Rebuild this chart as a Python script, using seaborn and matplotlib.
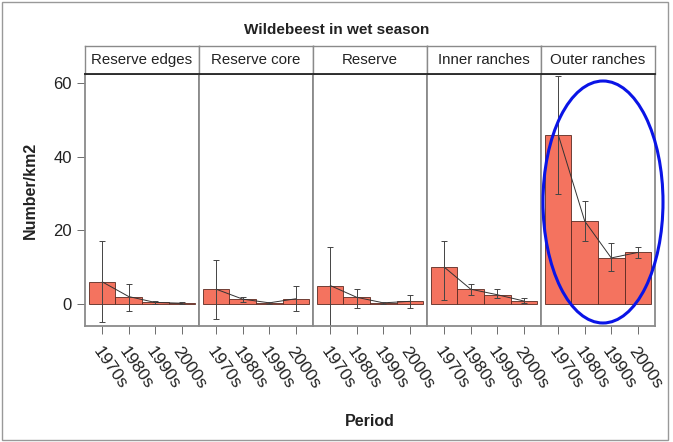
import matplotlib
matplotlib.use("Agg")
import matplotlib.pyplot as plt
import seaborn as sns
import pandas as pd
from matplotlib.patches import Ellipse, Rectangle

# Data
regions = ["Reserve edges", "Reserve core", "Reserve", "Inner ranches", "Outer ranches"]
periods = ["1970s", "1980s", "1990s", "2000s"]
means = {
    "Reserve edges": [6.0, 2.0, 0.4, 0.2],
    "Reserve core": [4.0, 1.3, 0.3, 1.4],
    "Reserve": [5.0, 1.8, 0.3, 0.7],
    "Inner ranches": [10.0, 4.0, 2.5, 0.8],
    "Outer ranches": [46.0, 22.5, 12.5, 14.0],
}
lower = {
    "Reserve edges": [-5.0, -2.0, 0.1, 0.0],
    "Reserve core": [-4.0, 0.6, 0.1, -2.0],
    "Reserve": [-6.5, -1.0, 0.1, -1.0],
    "Inner ranches": [1.0, 2.5, 1.5, 0.2],
    "Outer ranches": [30.0, 17.0, 9.0, 12.5],
}
upper = {
    "Reserve edges": [17.0, 5.5, 0.7, 0.4],
    "Reserve core": [12.0, 2.0, 0.5, 4.8],
    "Reserve": [15.5, 4.0, 0.5, 2.5],
    "Inner ranches": [17.0, 5.5, 4.0, 1.5],
    "Outer ranches": [62.0, 28.0, 16.5, 15.5],
}

rows = []
for r in regions:
    for i, p in enumerate(periods):
        rows.append({"region": r, "period": p, "density": means[r][i],
                     "lo": lower[r][i], "hi": upper[r][i]})
df = pd.DataFrame(rows)

sns.set_style("white")
plt.rcParams["font.family"] = ["Liberation Sans", "DejaVu Sans"]

W, H = 673, 442
fig = plt.figure(figsize=(W / 100, H / 100), dpi=100)

left_px, right_px = 85, 655
top_px, bot_px = 74, 326
strip_top = 46
pw = (right_px - left_px) / 5

for k, r in enumerate(regions):
    x0 = (left_px + k * pw) / W
    ax = fig.add_axes([x0, 1 - bot_px / H, pw / W, (bot_px - top_px) / H])
    sub = df[df["region"] == r]
    sns.barplot(data=sub, x="period", y="density", order=periods, color="#f4735f",
                saturation=1, width=1.0, edgecolor="#5a2a22", linewidth=0.6,
                errorbar=None, ax=ax)
    xs = list(range(len(periods)))
    ax.plot(xs, sub["density"].values, color="#333333", lw=0.7)
    ax.errorbar(xs, sub["density"].values,
                yerr=[sub["density"].values - sub["lo"].values,
                      sub["hi"].values - sub["density"].values],
                fmt="none", ecolor="#444444", elinewidth=0.7, capsize=2.5, capthick=0.7)
    ax.set_xlim(-0.65, 3.65)
    ax.set_ylim(-6, 62.5)
    ax.set_xlabel("")
    ax.set_ylabel("")
    ax.set_xticks(xs)
    ax.set_xticklabels(periods, rotation=-55, ha="left", rotation_mode="anchor",
                       fontsize=12.5, color="#222222")
    ax.tick_params(axis="x", length=6, width=0.6, color="#555555", pad=7, bottom=True)
    if k == 0:
        ax.set_yticks([0, 20, 40, 60])
        ax.tick_params(axis="y", length=6, width=0.6, color="#555555", labelsize=12,
                       left=True, labelcolor="#222222")
    else:
        ax.set_yticks([])
    for s in ax.spines.values():
        s.set_color("#8a8a8a")
        s.set_linewidth(1.3)

    # strip
    sax = fig.add_axes([x0, 1 - top_px / H, pw / W, (top_px - strip_top) / H])
    sax.set_xticks([])
    sax.set_yticks([])
    for s in sax.spines.values():
        s.set_color("#8a8a8a")
        s.set_linewidth(1.0)
    sax.spines["bottom"].set_color("#222222")
    sax.spines["bottom"].set_linewidth(1.3)
    sax.text(0.5, 0.5, r, ha="center", va="center", fontsize=10.8, color="#222222",
             transform=sax.transAxes)

fig.text(0.5, 1 - 30 / H, "Wildebeest in wet season", ha="center", va="center",
         fontsize=11, fontweight="bold", color="#222222")
fig.text(30 / W, 1 - 190 / H, "Number/km2", rotation=90, ha="center", va="center",
         fontsize=11.5, fontweight="bold", color="#222222")
fig.text((left_px + right_px) / 2 / W, 1 - 422 / H, "Period", ha="center", va="center",
         fontsize=11.5, fontweight="bold", color="#222222")

# blue highlight ellipse around the last panel
ell = Ellipse((603 / W, 1 - 202 / H), 120 / W, 242 / H, transform=fig.transFigure,
              fill=False, edgecolor="#0a14e6", linewidth=2.2)
fig.patches.append(ell)

# thin frame around the image
frame = Rectangle((2 / W, 2 / H), 666 / W, 438 / H, transform=fig.transFigure,
                  fill=False, edgecolor="#999999", linewidth=1.0)
fig.patches.append(frame)

fig.savefig("out.png", dpi=100)
